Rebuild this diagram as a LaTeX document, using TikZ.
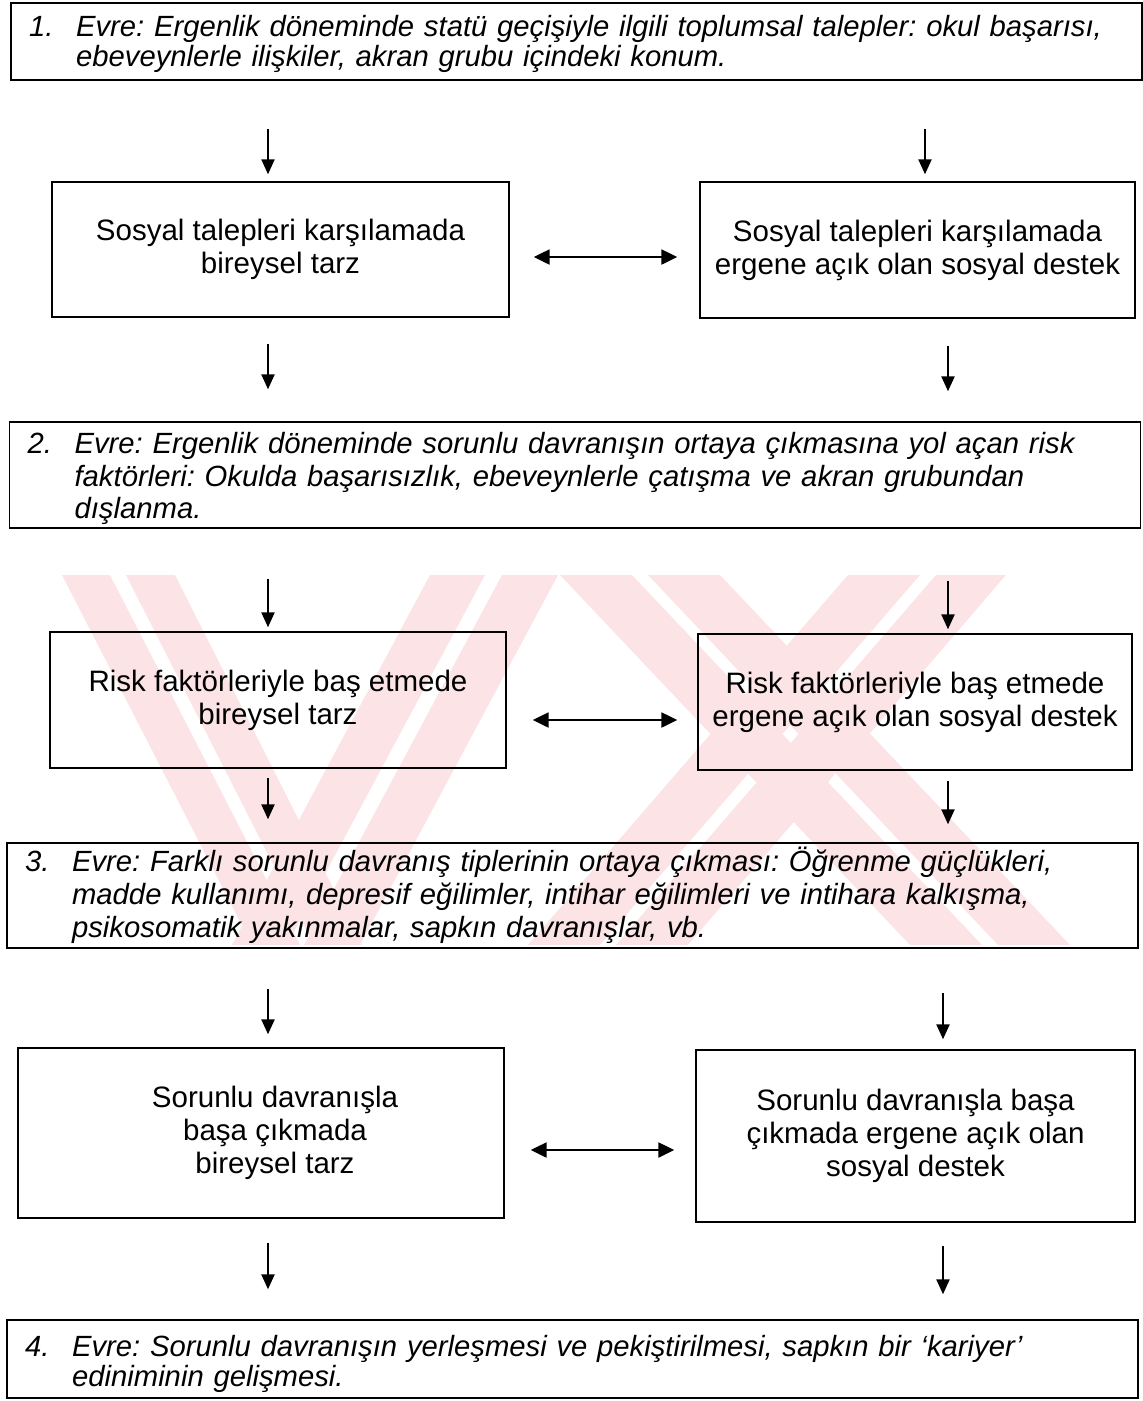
\documentclass[tikz,border=0pt]{standalone}
\usepackage{fontspec}
\setmainfont{Liberation Sans}
\usetikzlibrary{arrows.meta}
\frenchspacing

\definecolor{wmark}{RGB}{251,227,230}

% stage text: number column and hanging lines, lowered a little
\newcommand{\evre}[3][0.08cm]{\raisebox{-#1}[\height][\depth]{\begin{tabular}{@{}p{0.94cm}@{}l@{}}#2 & #3\end{tabular}}}

\tikzset{
  box/.style={draw, line width=0.9pt, align=center, inner sep=0pt,
    font=\fontsize{16.8}{18.7}\selectfont},
  stage/.style={draw, line width=0.9pt, align=left, inner xsep=0.36cm, inner ysep=0pt,
    text width=21.9cm, font=\fontsize{16.65}{18.7}\selectfont\itshape},
  flow/.style={line width=1pt, -{Triangle[length=8.5pt,width=7.5pt]}},
  twoway/.style={line width=1.2pt, {Triangle[length=9pt,width=8.5pt]}-{Triangle[length=9pt,width=8.5pt]}},
  gaps/.style 2 args={shorten <=#1*0.02cm, shorten >=#2*0.02cm},
}

\begin{document}
\begin{tikzpicture}[x=0.02cm, y=-0.02cm]
  \useasboundingbox (0,0) rectangle (1143,1401);

  % draw the watermark
  \fill[wmark] (62,575) -- (110,575) -- (300,945) -- (252,945) -- cycle;
  \fill[wmark] (126,575) -- (175,575) -- (362,945) -- (314,945) -- cycle;
  \fill[wmark] (430,575) -- (485,575) -- (287,945) -- (232,945) -- cycle;
  \fill[wmark] (502,575) -- (558,575) -- (360,945) -- (304,945) -- cycle;
  \fill[wmark] (560,575) -- (632,575) -- (982,945) -- (910,945) -- cycle;
  \fill[wmark] (648,575) -- (720,575) -- (1070,945) -- (998,945) -- cycle;
  \fill[wmark] (848,575) -- (920,575) -- (600,945) -- (528,945) -- cycle;
  \fill[wmark] (936,575) -- (1006,575) -- (688,945) -- (616,945) -- cycle;

  % column positions of the arrows
  \coordinate (c1) at (268,0);
  \coordinate (c2) at (925,0);
  \coordinate (c3) at (948,0);
  \coordinate (c4) at (943,0);

  % draw the stages
  \node[stage, minimum height=1.54cm] (s1) at (576.5,41.5)
    {\renewcommand{\arraystretch}{0.82}\evre[0.07cm]{1.}{Evre: Ergenlik döneminde statü geçişiyle ilgili toplumsal talepler: okul başarısı,\\
     & ebeveynlerle ilişkiler, akran grubu içindeki konum.}};
  \node[stage, minimum height=2.12cm] (s2) at (575,475)
    {\evre[0.09cm]{2.}{Evre: Ergenlik döneminde sorunlu davranışın ortaya çıkmasına yol açan risk\\
     & faktörleri: Okulda başarısızlık, ebeveynlerle çatışma ve akran grubundan\\
     & dışlanma.}};
  \node[stage, minimum height=2.10cm] (s3) at (572.5,895.5)
    {\evre[0.03cm]{3.}{Evre: Farklı sorunlu davranış tiplerinin ortaya çıkması: Öğrenme güçlükleri,\\
     & madde kullanımı, depresif eğilimler, intihar eğilimleri ve intihara kalkışma,\\
     & psikosomatik yakınmalar, sapkın davranışlar, vb.}};
  \node[stage, minimum height=1.56cm] (s4) at (572.5,1359)
    {\renewcommand{\arraystretch}{0.85}\evre[0.12cm]{4.}{Evre: Sorunlu davranışın yerleşmesi ve pekiştirilmesi, sapkın bir ‘kariyer’\\
     & ediniminin gelişmesi.}};

  % draw the coping boxes
  \node[box, minimum width=9.14cm, minimum height=2.70cm] (l1) at (280.5,249.5)
    {Sosyal talepleri karşılamada\\bireysel tarz};
  \node[box, minimum width=8.70cm, minimum height=2.72cm] (r1) at (917.5,250)
    {Sosyal talepleri karşılamada\\ergene açık olan sosyal destek};
  \node[box, minimum width=9.12cm, minimum height=2.72cm] (l2) at (278,700)
    {Risk faktörleriyle baş etmede\\bireysel tarz};
  \node[box, minimum width=8.68cm, minimum height=2.72cm] (r2) at (915,702)
    {Risk faktörleriyle baş etmede\\ergene açık olan sosyal destek};
  \node[box, minimum width=9.72cm, minimum height=3.40cm] (l3) at (261,1133)
    {\hspace*{0.56cm}Sorunlu davranışla\\\hspace*{0.56cm}başa çıkmada\\\hspace*{0.56cm}bireysel tarz};
  \node[box, minimum width=8.78cm, minimum height=3.44cm] (r3) at (915.5,1136)
    {Sorunlu davranışla başa\\çıkmada ergene açık olan\\sosyal destek};

  % draw the arrows down
  \draw[flow, gaps={48}{7}] (s1.south -| c1) -- (l1.north -| c1);
  \draw[flow, gaps={48}{7}] (s1.south -| c2) -- (r1.north -| c2);
  \draw[flow, gaps={26}{32}] (l1.south -| c1) -- (s2.north -| c1);
  \draw[flow, gaps={27}{30}] (r1.south -| c3) -- (s2.north -| c3);
  \draw[flow, gaps={50}{4}] (s2.south -| c1) -- (l2.north -| c1);
  \draw[flow, gaps={52}{4}] (s2.south -| c3) -- (r2.north -| c3);
  \draw[flow, gaps={9}{23}] (l2.south -| c1) -- (s3.north -| c1);
  \draw[flow, gaps={10}{18}] (r2.south -| c3) -- (s3.north -| c3);
  \draw[flow, gaps={40}{13}] (s3.south -| c1) -- (l3.north -| c1);
  \draw[flow, gaps={44}{10}] (s3.south -| c4) -- (r3.north -| c4);
  \draw[flow, gaps={24}{30}] (l3.south -| c1) -- (s4.north -| c1);
  \draw[flow, gaps={23}{25}] (r3.south -| c4) -- (s4.north -| c4);

  % draw the arrows between the boxes
  \draw[twoway, gaps={24}{22}] ([yshift=-0.15cm]l1.east) -- ([yshift=-0.15cm]l1.east -| r1.west);
  \draw[twoway, gaps={26}{20}] ([yshift=-0.40cm]l2.east) -- ([yshift=-0.40cm]l2.east -| r2.west);
  \draw[twoway, gaps={26}{21}] ([yshift=-0.34cm]l3.east) -- ([yshift=-0.34cm]l3.east -| r3.west);
\end{tikzpicture}
\end{document}
